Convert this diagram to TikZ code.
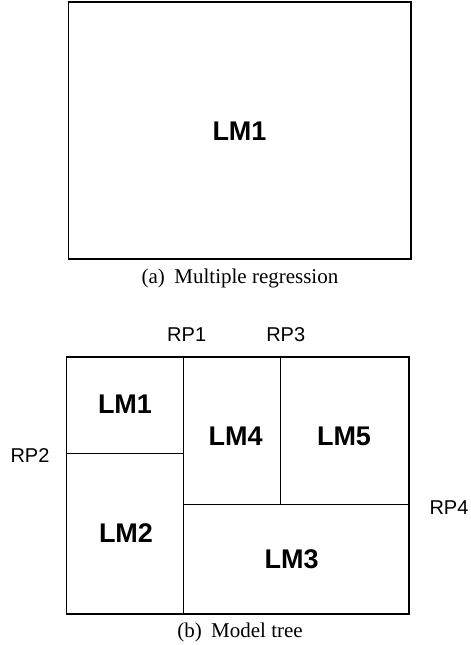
\documentclass[tikz,border=0pt]{standalone}
\usepackage{fontspec}
\setmainfont{Liberation Serif}
\setsansfont{Liberation Sans}
\usetikzlibrary{positioning}

\tikzset{
  region/.style={line width=1.2pt},
  lmlabel/.style={font=\sffamily\bfseries\fontsize{27}{32}\selectfont},
  rplabel/.style={font=\sffamily\fontsize{20}{24}\selectfont},
  caplabel/.style={font=\rmfamily\fontsize{21}{25}\selectfont, anchor=base}
}

\begin{document}
\begin{tikzpicture}[x=1pt,y=-1pt]
        \useasboundingbox (0,0) rectangle (471,645);

        % (a) one linear model for everything
        \draw[region] (68.5,2) rectangle (411,259);
        \node[lmlabel] (single) at (239.5,131) {LM1};
        \node[caplabel] (capA) at (240,283.5) {(a)\hspace{0.45em}Multiple regression};

        % (b) split points cut the space into pieces
        \draw[region] (66.5,357) rectangle (409,614);
        \draw[region] (183.7,357) -- (183.7,614);
        \draw[region] (66.5,453.3) -- (183.7,453.3);
        \draw[region] (183.7,504.3) -- (409,504.3);
        \draw[region] (280.7,357) -- (280.7,504.3);

        \node[rplabel] (rp1) at (186.7,335) {RP1};
        \node[rplabel] (rp2) at (30,456) {RP2};
        \node[rplabel] (rp3) at (285.7,335) {RP3};
        \node[rplabel] (rp4) at (449,508) {RP4};

        \node[lmlabel] (lm1) at (125,404) {LM1};
        \node[lmlabel] (lm2) at (126,533) {LM2};
        \node[lmlabel] (lm3) at (291.7,559) {LM3};
        \node[lmlabel] (lm4) at (235.7,436) {LM4};
        \node[lmlabel] (lm5) at (344,436) {LM5};

        \node[caplabel] (capB) at (240,637) {(b)\hspace{0.45em}Model tree};
      \end{tikzpicture}
\end{document}
